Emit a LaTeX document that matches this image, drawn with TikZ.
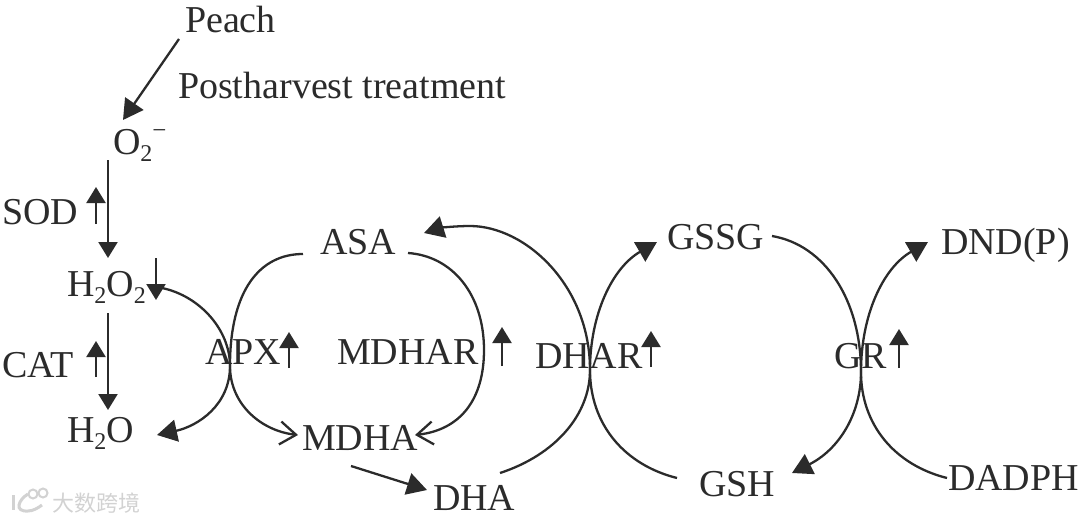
\documentclass[tikz,border=0pt]{standalone}
\usepackage{fontspec}
\setmainfont{Liberation Serif}
\newfontfamily\cjkwm{Noto Sans CJK SC}
\usetikzlibrary{arrows.meta}
\definecolor{ink}{HTML}{2B2B2B}
\definecolor{wm}{HTML}{D2D2D2}
\newcommand{\sbs}[1]{\raisebox{-0.2em}{\fontsize{24}{24}\selectfont #1}}
\tikzset{
  lbl/.style={anchor=base west,inner sep=0pt,outer sep=0pt,text=ink,font=\fontsize{38}{42}\selectfont},
  wmark/.style={anchor=base west,inner sep=0pt,text=wm,font=\cjkwm\fontsize{22}{22}\selectfont},
  conn/.style={draw=ink,line width=2.3pt},
  solid head/.style={conn,-{Triangle[length=20pt,width=22pt]}},
  straight head/.style={conn,-{Triangle[length=16pt,width=19pt]}},
  small up/.style={conn,-{Triangle[length=16pt,width=19pt]}},
  open head/.style={conn,-{Straight Barb[length=16pt,width=23pt,line width=2.3pt]}},
}
\begin{document}
\begin{tikzpicture}[x=1pt,y=-1pt]
\useasboundingbox (0,0) rectangle (1080,522);
% labels
\node[lbl] (peach) at (185,32) {Peach};
\node[lbl] (post) at (178,98) {Postharvest treatment};
\node[lbl] (o2) at (113,154) {O\sbs{2}\raisebox{0.42em}{\fontsize{25}{25}\selectfont −}};
\node[lbl] (sod) at (2,224) {SOD};
\node[lbl] (h2o2) at (67,296) {H\sbs{2}O\sbs{2}};
\node[lbl] (cat) at (2,377) {CAT};
\node[lbl] (h2o) at (67,442) {H\sbs{2}O};
\node[lbl] (apx) at (205,364) {APX};
\node[lbl] (asa) at (320,254) {ASA};
\node[lbl] (mdhar) at (337,364) {MDHAR};
\node[lbl] (mdha) at (302,450) {MDHA};
\node[lbl] (dha) at (433,510) {DHA};
\node[lbl] (dhar) at (535,368) {DHAR};
\node[lbl] (gssg) at (667,249) {GSSG};
\node[lbl] (gsh) at (699,496) {GSH};
\node[lbl] (gr) at (834,368) {GR};
\node[lbl] (dnd) at (941,254) {DND(P)};
\node[lbl] (dadph) at (948,490) {DADPH};
% connector ends
\coordinate (peachS) at (179,39);
\coordinate (o2N) at (123,120);
\coordinate (o2S) at (108,160);
\coordinate (h2o2N) at (108,258);
\coordinate (h2o2S) at (108,313);
\coordinate (h2oN) at (108,410);
\coordinate (h2o2E) at (162,288);
\coordinate (h2oE) at (157,435);
\coordinate (apxM) at (230,366);
\coordinate (asaW) at (303,254);
\coordinate (mdhaW) at (298,435);
\coordinate (asaE) at (408,253);
\coordinate (mdharE) at (484,350);
\coordinate (mdhaE) at (415,435);
\coordinate (mdhaS) at (351,466);
\coordinate (dhaW) at (427,490);
\coordinate (dhaE) at (500,473);
\coordinate (dharM) at (590,370);
\coordinate (asaNE) at (424,233);
\coordinate (gshW) at (677,478);
\coordinate (gssgW) at (657,242);
\coordinate (gssgE) at (772,236);
\coordinate (grM) at (861,372);
\coordinate (gshE) at (792,473);
\coordinate (dadphW) at (947,478);
\coordinate (dndW) at (928,242);
% straight
\draw[solid head] (peachS) -- (o2N);
\draw[straight head] (o2S) -- (h2o2N);
\draw[straight head] (h2o2S) -- (h2oN);
\draw[solid head] (mdhaS) -- (dhaW);
% small regulation arrows
\coordinate (sodA) at (96,224); \coordinate (sodB) at (96,187);
\coordinate (catA) at (96,377); \coordinate (catB) at (96,341);
\coordinate (hA) at (156,258); \coordinate (hB) at (156,300);
\coordinate (apxA) at (289,368); \coordinate (apxB) at (289,332);
\coordinate (mdA) at (502,366); \coordinate (mdB) at (502,327);
\coordinate (dhA) at (651,367); \coordinate (dhB) at (651,331);
\coordinate (grA) at (899,368); \coordinate (grB) at (899,329);
\foreach \a/\b in {sodA/sodB,catA/catB,hA/hB,apxA/apxB,mdA/mdB,dhA/dhB,grA/grB}
  \draw[small up] (\a) -- (\b);
% curves
\draw[solid head] (h2o2E) .. controls (200,296) and (230,330) .. (apxM) .. controls (230,405) and (198,426) .. (h2oE);
\draw[open head] (asaW) .. controls (260,254) and (230,290) .. (apxM) .. controls (230,405) and (262,431) .. (mdhaW);
\draw[open head] (asaE) .. controls (452,256) and (484,294) .. (mdharE) .. controls (484,400) and (460,430) .. (mdhaE);
\draw[solid head] (dhaE) .. controls (555,455) and (590,415) .. (dharM) .. controls (590,285) and (525,226) .. (470,226) .. controls (455,226) and (440,228) .. (asaNE);
\draw[solid head] (gshW) .. controls (625,465) and (590,425) .. (dharM) .. controls (590,315) and (612,268) .. (gssgW);
\draw[solid head] (gssgE) .. controls (825,245) and (861,300) .. (grM) .. controls (861,415) and (838,450) .. (gshE);
\draw[solid head] (dadphW) .. controls (895,465) and (861,425) .. (grM) .. controls (861,315) and (883,268) .. (dndW);
% watermark
\node[wmark] (wm) at (52,511) {大数跨境};
\draw[wm,line width=3pt] (28,494) .. controls (18,500) and (14,512) .. (28,511) .. controls (33,511) and (38,508) .. (42,505);
\draw[wm,line width=3pt] (13,495) -- (13,510);
\node[draw=wm,line width=2pt,circle,minimum size=9pt,inner sep=0pt] (wmA) at (33,494) {};
\node[draw=wm,line width=2pt,circle,minimum size=9pt,inner sep=0pt] (wmB) at (43,493) {};
\end{tikzpicture}
\end{document}
